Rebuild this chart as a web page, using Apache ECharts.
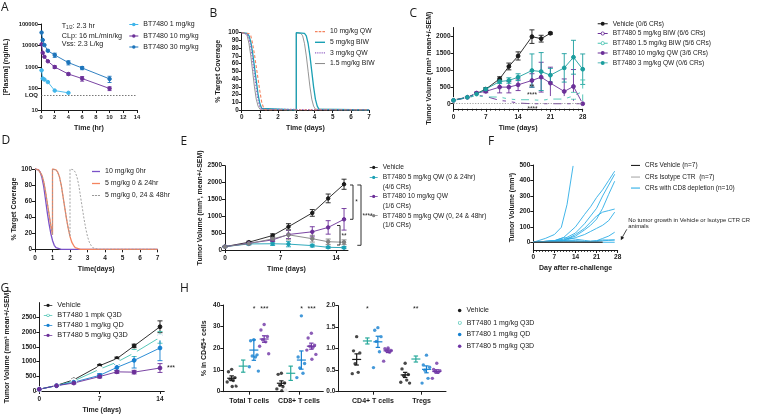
<!DOCTYPE html>
<html><head><meta charset="utf-8">
<script src="https://cdn.jsdelivr.net/npm/echarts@6/dist/echarts.min.js"></script>
<style>html,body{margin:0;padding:0;background:#fff}#c{width:760px;height:416px}</style>
</head><body><div id="c"></div><script>
// ================= DATA =================
// Panel A (PK)
const aTime = [0.083, 0.25, 0.5, 1, 2, 4, 6, 10];
const aTime1 = [0.083, 0.25, 0.5, 1, 2, 4];
const a1mg = [700, 290, 260, 200, 80, 63];
const a10mg = [11300, 4600, 3000, 1850, 1000, 470, 290, 100];
const a30mg = [40000, 18000, 10500, 5700, 3600, 1600, 900, 280];
const a10sem = [0, 0, 0, 0, 150, 60, 70, 20];
const a30sem = [0, 0, 0, 500, 800, 350, 150, 90];
// Panel B (target coverage)
const bQW10T = [0, 0.4, 0.5, 0.6, 0.7, 0.8, 0.9, 1.0, 1.1, 1.2, 1.3, 7];
const bQW10V = [100, 99, 96, 86, 72, 56, 40, 24, 10, 3, 0, 0];
const bBIW5T = [0, 0.3, 0.4, 0.5, 0.6, 0.7, 0.8, 0.9, 1.0, 1.1, 1.2, 3.0, 3.0, 3.45, 3.55, 3.65, 3.75, 3.85, 3.95, 4.05, 4.15, 4.25, 7];
const bBIW5V = [100, 99, 96, 88, 74, 56, 38, 20, 8, 2, 0, 0, 100, 99, 96, 86, 70, 50, 30, 14, 5, 1, 0];
const bQW3T = [0, 0.3, 0.4, 0.5, 0.6, 0.7, 0.8, 0.9, 1.0, 1.1, 7];
const bQW3V = [100, 98, 93, 82, 64, 46, 28, 13, 4, 1, 0];
const bBIW15T = [0, 0.2, 0.3, 0.4, 0.5, 0.6, 0.7, 0.8, 0.9, 1.0, 3.0, 3.0, 3.25, 3.35, 3.45, 3.55, 3.65, 3.75, 3.85, 3.95, 4.05, 7];
const bBIW15V = [100, 99, 96, 86, 70, 50, 30, 14, 5, 1, 0, 100, 99, 96, 86, 70, 50, 30, 14, 5, 1, 0];
// Panel C (tumor volume)
const cDays = [0, 3, 5, 7, 10, 12, 14, 17, 19, 21, 24, 26, 28];
const cVeh = [110, 190, 300, 430, 735, 1100, 1410, 1980, 1920, 2080];
const cVehSem = [10, 20, 30, 40, 60, 100, 120, 200, 100, 30];
const cBIW5 = [100, 180, 250, 215, 98, 68, 20, 0, 0, 0, 0, 0, 0];
const cBIW5Sem = [10, 20, 20, 20, 15, 10, 10, 5, 0, 0, 0, 0, 0];
const cBIW15 = [100, 175, 240, 200, 197, 137, 118, 118, 98, 137, 137, 235, 362];
const cBIW15Sem = [10, 20, 20, 20, 20, 15, 15, 15, 15, 15, 20, 100, 340];
const cQW10 = [100, 190, 315, 365, 490, 490, 558, 686, 784, 608, 362, 509, 0];
const cQW10Sem = [10, 20, 30, 40, 170, 170, 170, 200, 440, 470, 370, 500, 0];
const cQW3 = [100, 190, 285, 430, 655, 685, 784, 980, 950, 843, 1058, 1372, 1019];
const cQW3Sem = [10, 20, 30, 40, 60, 80, 100, 490, 560, 200, 420, 500, 450];
// Panel D (target coverage)
const dT10 = [0, 0.2, 0.3, 0.4, 0.5, 0.6, 0.7, 0.8, 0.9, 1.0, 1.1, 1.2, 1.3, 1.5, 7];
const dV10 = [100, 99, 96, 89, 78, 62, 46, 32, 20, 11, 5, 2, 1, 0, 0];
const dT5a = [0, 0.2, 0.3, 0.4, 0.5, 0.6, 0.7, 0.8, 0.9, 1.0, 1.0, 1.2, 1.3, 1.4, 1.5, 1.6, 1.7, 1.8, 1.9, 2.0, 2.1, 2.2, 2.3, 2.4, 2.6, 7];
const dV5a = [100, 99, 97, 92, 84, 72, 58, 44, 30, 18, 100, 99, 96, 90, 80, 66, 52, 38, 26, 16, 9, 5, 2, 1, 0, 0];
const dT5b = [0, 0.2, 0.3, 0.4, 0.5, 0.6, 0.7, 0.8, 0.9, 1.0, 1.0, 1.2, 1.3, 1.4, 1.5, 1.6, 1.7, 1.8, 1.9, 2.0, 2.0, 2.2, 2.3, 2.4, 2.5, 2.6, 2.7, 2.8, 2.9, 3.0, 3.1, 3.2, 3.3, 3.4, 3.6, 7];
const dV5b = [100, 99, 97, 92, 84, 72, 58, 44, 30, 18, 100, 99, 96, 90, 80, 66, 52, 38, 26, 16, 100, 99, 96, 90, 80, 66, 52, 38, 26, 16, 9, 5, 2, 1, 0, 0];
// Panel E
const eDays = [0, 3, 6, 8, 11, 13, 15];
const eVeh = [100, 230, 430, 690, 1100, 1530, 1950];
const eVehSem = [10, 30, 50, 90, 100, 130, 150];
const eQW024 = [100, 180, 185, 175, 130, 80, 70];
const eQW024Sem = [10, 30, 50, 80, 40, 30, 30];
const eQW10 = [100, 200, 300, 460, 540, 670, 910];
const eQW10Sem = [10, 30, 50, 120, 150, 200, 320];
const eQW048 = [100, 190, 330, 450, 335, 245, 230];
const eQW048Sem = [10, 30, 60, 150, 100, 80, 70];
// Panel F (re-challenge, individual animals)
const fVehicle = [[0, 0], [23, 0]];
const fIsotype = [[0, 0], [23, 0]];
const fM1 = [[0, 0], [4, 25], [7, 50], [9.3, 97], [11.2, 245], [13.2, 494]];
const fM2 = [[0, 0], [7, 10], [10, 30], [14, 100], [17, 180], [19, 230], [21, 290], [23, 340], [25, 400], [27, 460]];
const fM3 = [[0, 0], [7, 10], [10, 20], [14, 60], [17, 120], [19, 170], [21, 220], [23, 300], [25, 370], [27, 440]];
const fM4 = [[0, 0], [10, 15], [14, 40], [17, 80], [19, 110], [21, 150], [23, 220], [25, 310], [27, 395]];
const fM5 = [[0, 0], [10, 10], [14, 50], [17, 90], [19, 130], [21, 170], [23, 195], [25, 205], [27, 215]];
const fM6 = [[0, 0], [10, 10], [14, 30], [17, 50], [19, 70], [21, 90], [23, 110], [25, 140], [27, 195]];
const fM7 = [[0, 0], [10, 10], [14, 8], [17, 5], [19, 5], [21, 10], [23, 25], [25, 40], [27, 65]];
const fM8 = [[0, 0], [7, 10], [10, 30], [12, 25], [14, 20], [17, 12], [19, 8], [21, 10], [23, 15], [25, 15], [27, 15]];
const fM9 = [[0, 0], [7, 5], [10, 10], [14, 10], [17, 5], [19, 0], [21, 5], [23, 10], [25, 12], [27, 15]];
const fM10 = [[0, 0], [10, 5], [14, 5], [19, 0], [27, 0]];
// Panel G
const gDays = [0, 2, 4, 7, 9, 11, 14];
const gVeh = [60, 190, 380, 860, 1100, 1530, 2180];
const gVehSem = [5, 15, 30, 40, 50, 60, 200];
const gQ3D1 = [60, 180, 340, 740, 980, 1290, 1820];
const gQ3D1Sem = [5, 15, 30, 60, 80, 120, 200];
const gQD1 = [60, 180, 300, 530, 800, 1040, 1460];
const gQD1Sem = [5, 15, 30, 60, 100, 260, 430];
const gQ3D5 = [60, 180, 270, 490, 650, 640, 780];
const gQ3D5Sem = [5, 15, 30, 50, 50, 60, 150];
// Panel H (flow cytometry)
const hLeftLabels = ['Total T cells', 'CD8+ T cells'];
const hRightLabels = ['CD4+ T cells', 'Tregs'];
const hTotVeh = [10.3, 9.2, 6.5, 5.8, 5.2, 4.5, 2.6, 2.4];
const hTotQ3d1 = [21, 20, 11, 9.5, 8.5, 4, 4];
const hTotQd1 = [24, 23.5, 17, 16.5, 16, 11.5, 9.5];
const hTotQ3d5 = [31, 28.5, 25.5, 24, 23, 21, 17.5];
const hCd8Veh = [8.5, 8, 4, 3, 2.3, 1.3, 0.8, 0.5];
const hCd8Q3d1 = [18.5, 16, 10.8, 7.4, 2.3, 0.8];
const hCd8Qd1 = [35, 16, 13, 11, 8.5, 6.5];
const hCd8Q3d5 = [27, 24.8, 21.5, 21, 20.5, 19.2, 17.2, 15];
const hCd4Veh = [1.28, 0.95, 0.9, 0.65, 0.45, 0.42];
const hCd4Q3d1 = [1.51, 1.28, 1.2, 1.15, 1.1, 1.03, 0.98];
const hCd4Qd1 = [1.49, 1.43, 1.28, 1.17, 0.93, 0.56];
const hCd4Q3d5 = [1.02, 1.0, 0.96, 0.95, 0.92, 0.71];
const hTregVeh = [0.66, 0.53, 0.4, 0.37, 0.27, 0.22, 0.2];
const hTregQ3d1 = [1.09, 0.97, 0.8, 0.71, 0.67, 0.64, 0.62];
const hTregQd1 = [0.85, 0.62, 0.57, 0.5, 0.31, 0.2];
const hTregQ3d5 = [0.66, 0.52, 0.49, 0.47, 0.45, 0.31];
const hTotMean = [6.2, 11.8, 19.2, 24.3], hTotSem = [1.1, 2.8, 4.7, 1.5];
const hCd8Mean = [3.9, 8.5, 14.6, 21], hCd8Sem = [1.1, 3.3, 4.2, 1.4];
const hCd4Mean = [0.75, 1.18, 1.16, 0.95], hCd4Sem = [0.13, 0.07, 0.13, 0.04];
const hTregMean = [0.39, 0.76, 0.52, 0.47], hTregSem = [0.06, 0.07, 0.08, 0.04];

// ================= STYLE / LAYOUT =================
const FF = '"Liberation Sans", Arial, sans-serif';
const INK = '#1a1a1a';
const C = {lblue:'#3fb5ea', purple:'#6b2f98', dblue:'#1c74bb', orange:'#f4845f', teal:'#1aa0b4', lpurple:'#9566c6',
  gray:'#808080', lteal:'#45c2b1', dteal:'#1b9e9e', dpurple:'#7a52c8', fblue:'#2eaee6', hblue:'#1580d0', hteal:'#2aaa9c', hpurple:'#6f35a5'};
const hPosL = [[0.78, 1.85, 2.84, 3.8], [5.4, 6.27, 7.26, 8.19]];
const hPosR = [[1.75, 2.77, 3.77, 4.74], [6.37, 7.39, 8.4, 9.38]];
const jit = [0, -0.3, 0.3, -0.15, 0.15, -0.42, 0.42, 0.05];
const IC = {
  solid: 'path://M0,0H10V1H0Z',
  dash: 'path://M0,0H2.6V1H0Z M3.7,0H6.3V1H3.7Z M7.4,0H10V1H7.4Z',
  dot: 'path://M0,0H1V1H0Z M1.8,0H2.8V1H1.8Z M3.6,0H4.6V1H3.6Z M5.4,0H6.4V1H5.4Z M7.2,0H8.2V1H7.2Z M9,0H10V1H9Z',
  dotLine: 'path://M0,1.55H3.1V2.45H0Z M6.9,1.55H10V2.45H6.9Z M7,2A2,2 0 1,1 3,2A2,2 0 1,1 7,2Z',
  ringLine: 'path://M0,1.55H3.1V2.45H0Z M6.9,1.55H10V2.45H6.9Z M7,2A2,2 0 1,1 3,2A2,2 0 1,1 7,2Z M6.2,2A1.2,1.2 0 1,0 3.8,2A1.2,1.2 0 1,0 6.2,2Z',
  ring: 'path://M4,2A2,2 0 1,1 0,2A2,2 0 1,1 4,2Z M3.25,2A1.25,1.25 0 1,0 0.75,2A1.25,1.25 0 1,0 3.25,2Z'
};

function isObj(o){return o && typeof o === 'object' && !Array.isArray(o) && typeof o !== 'function';}
function merge(a, b){ const r = Object.assign({}, a); for (const k in b){ r[k] = (isObj(a[k]) && isObj(b[k])) ? merge(a[k], b[k]) : b[k]; } return r; }
const zip = (xs, ys) => ys.map((y, i) => [xs[i], y]);
const zipErr = (xs, m, s) => m.map((v, i) => [xs[i], v - s[i], v + s[i]]).filter((d, i) => s[i] > 0);

function ax(gi, o){
  return merge({
    gridIndex: gi, type: 'value',
    axisLine: {show: true, onZero: false, lineStyle: {color: INK, width: 1}},
    axisTick: {show: true, inside: false, length: 3, lineStyle: {color: INK, width: 1}},
    axisLabel: {fontSize: 6.5, fontWeight: 'bold', color: INK, fontFamily: FF, margin: 4, formatter: v => String(v)},
    splitLine: {show: false},
    nameLocation: 'middle',
    nameTextStyle: {fontSize: 7, fontWeight: 'bold', color: INK, fontFamily: FF}
  }, o || {});
}
function errSeries(gi, data, color, cap, w){
  cap = cap || 2.5;
  return {type: 'custom', xAxisIndex: gi, yAxisIndex: gi, data, z: 2, silent: true,
    renderItem: (p, api) => {
      const x = api.value(0), lo = api.value(1), hi = api.value(2);
      const a = api.coord([x, Math.max(lo, 1e-9)]), b = api.coord([x, hi]);
      const st = {stroke: color, lineWidth: w || 0.9};
      return {type: 'group', children: [
        {type: 'line', shape: {x1: a[0], y1: a[1], x2: b[0], y2: b[1]}, style: st},
        {type: 'line', shape: {x1: a[0] - cap, y1: a[1], x2: a[0] + cap, y2: a[1]}, style: st},
        {type: 'line', shape: {x1: b[0] - cap, y1: b[1], x2: b[0] + cap, y2: b[1]}, style: st}]};
    }};
}
function meanSeries(gi, data, color){
  return {type: 'custom', xAxisIndex: gi, yAxisIndex: gi, data, z: 5, silent: true,
    renderItem: (p, api) => {
      const x = api.value(0), m = api.value(1), s = api.value(2);
      const c = api.coord([x, m]), lo = api.coord([x, m - s]), hi = api.coord([x, m + s]);
      const st = {stroke: color, lineWidth: 1.2};
      return {type: 'group', children: [
        {type: 'line', shape: {x1: c[0] - 4.5, y1: c[1], x2: c[0] + 4.5, y2: c[1]}, style: st},
        {type: 'line', shape: {x1: lo[0], y1: lo[1], x2: hi[0], y2: hi[1]}, style: st},
        {type: 'line', shape: {x1: lo[0] - 2.2, y1: lo[1], x2: lo[0] + 2.2, y2: lo[1]}, style: st},
        {type: 'line', shape: {x1: hi[0] - 2.2, y1: hi[1], x2: hi[0] + 2.2, y2: hi[1]}, style: st}]};
    }};
}
function lineS(name, gi, data, color, o){
  return merge({type: 'line', name, xAxisIndex: gi, yAxisIndex: gi, data, symbol: 'circle', symbolSize: 3.5,
    lineStyle: {color, width: 0.9}, itemStyle: {color, borderColor: color, borderWidth: 1}, z: 3}, o || {});
}
function curveS(name, gi, data, color, width, type){
  return {type: 'line', name, xAxisIndex: gi, yAxisIndex: gi, data, showSymbol: false, symbol: 'none',
    lineStyle: {color, width, type: type || 'solid'}, itemStyle: {color}, z: 3};
}
function hScatter(name, gi, groups, pos, sIdx, color, empty){
  const d = [];
  groups.forEach((vals, g) => vals.forEach((v, i) => d.push([pos[g][sIdx] + jit[i % jit.length], v])));
  return {type: 'scatter', name, xAxisIndex: gi, yAxisIndex: gi, data: d, symbol: empty ? 'emptyCircle' : 'circle',
    symbolSize: empty ? 3.6 : 3.4, itemStyle: {color: empty ? '#fff' : color, borderColor: color, borderWidth: empty ? 0.8 : 0}, z: 3};
}
const legendNames = {};
function leg(name, text, left, cy, icon, color, w, h, fs){
  fs = fs || 7;
  legendNames[name] = text;
  return {data: [{name, icon, itemStyle: {color, borderWidth: 0, borderColor: 'rgba(0,0,0,0)', opacity: 1}}],
    left, top: cy - fs / 2 - 0.5, padding: 0, itemGap: 0, selectedMode: false, symbolKeepAspect: false,
    itemWidth: w, itemHeight: h,
    formatter: n => legendNames[n], textStyle: {fontSize: fs, color: INK, fontFamily: FF}};
}
function txt(t, x, y, fs, o){
  o = o || {};
  return {type: 'text', x, y, silent: true, z: 100, style: {text: t, fontSize: fs, fontFamily: o.ff || FF, fontWeight: o.fw || 'normal',
    fill: o.fill || INK, align: o.align || 'left', textAlign: o.align || 'left', verticalAlign: 'middle', textVerticalAlign: 'middle', rich: o.rich}};
}
function poly(points, o){
  return {type: 'polyline', silent: true, z: 100, shape: {points}, style: {stroke: (o && o.stroke) || INK, fill: null, lineWidth: (o && o.lw) || 0.9}};
}

// ================= AXES =================
const grids = [
  {left: 41, top: 24, width: 96, height: 86},          // 0 A
  {left: 241.7, top: 32.7, width: 127.4, height: 77.3}, // 1 B
  {left: 453.5, top: 27.5, width: 129.2, height: 81.3}, // 2 C
  {left: 35, top: 169, width: 122.5, height: 80.3},     // 3 D
  {left: 225, top: 165.7, width: 123, height: 84.3},    // 4 E
  {left: 533.3, top: 165, width: 84.4, height: 85},     // 5 F
  {left: 39.3, top: 302.6, width: 125, height: 88.4},   // 6 G
  {left: 223.3, top: 305, width: 100, height: 86.7},    // 7 H left
  {left: 338.3, top: 305.7, width: 107.7, height: 86}   // 8 H right
];
const xAxes = [
  ax(0, {min: 0, max: 14, interval: 2, name: 'Time (hr)', nameGap: 15, axisLabel: {fontSize: 5.8, margin: 4}}),
  ax(1, {min: 0, max: 7, interval: 1, name: 'Time (days)', nameGap: 15, axisLabel: {fontSize: 6.3, margin: 4}}),
  ax(2, {min: 0, max: 28, interval: 7, name: 'Time (days)', nameGap: 16, minorTick: {show: true, splitNumber: 7, length: 1.8, lineStyle: {color: INK}}, axisLabel: {margin: 5}}),
  ax(3, {min: 0, max: 7, interval: 1, name: 'Time(days)', nameGap: 16, axisLabel: {margin: 5}}),
  ax(4, {min: 0, max: 15.5, name: 'Time (days)', nameGap: 16, axisLabel: {customValues: [0, 7, 14], margin: 5}, axisTick: {customValues: [0, 7, 14]}}),
  ax(5, {min: 0, max: 28, interval: 7, name: 'Day after re-challenge', nameGap: 15, minorTick: {show: true, splitNumber: 7, length: 1.8, lineStyle: {color: INK}}, axisLabel: {margin: 4}}),
  ax(6, {min: 0, max: 14.5, name: 'Time (days)', nameGap: 16, axisLabel: {customValues: [0, 7, 14], margin: 5}, axisTick: {customValues: [0, 7, 14]}}),
  ax(7, {min: 0, max: 9.3, axisLabel: {customValues: [2.41, 7.04], formatter: v => v < 5 ? hLeftLabels[0] : hLeftLabels[1], fontSize: 7, margin: 6}, axisTick: {customValues: [2.41, 7.04]}}),
  ax(8, {min: 0, max: 10.26, axisLabel: {customValues: [3.3, 7.94], formatter: v => v < 5.5 ? hRightLabels[0] : hRightLabels[1], fontSize: 7, margin: 6}, axisTick: {customValues: [3.3, 7.94]}})
];
const yAxes = [
  ax(0, {type: 'log', logBase: 10, min: 10, max: 100000, name: '[Plasma] (ng/mL)', nameGap: 31, axisLabel: {fontSize: 5.8, margin: 3}}),
  ax(1, {min: 0, max: 100, interval: 10, name: '% Target Coverage', nameGap: 20, axisLabel: {fontSize: 6.3, margin: 3}}),
  ax(2, {min: -150, max: 2250, name: 'Tumor Volume (mm³ mean+/-SEM)', nameGap: 21, axisLabel: {customValues: [0, 500, 1000, 1500, 2000], margin: 3}, axisTick: {customValues: [0, 500, 1000, 1500, 2000]}}),
  ax(3, {min: 0, max: 100, interval: 20, name: '% Target Coverage', nameGap: 17, axisLabel: {margin: 3}}),
  ax(4, {min: 0, max: 2500, interval: 500, name: 'Tumor Volume (mm³, mean+/-SEM)', nameGap: 20, axisLabel: {margin: 3}}),
  ax(5, {min: -50, max: 500, name: 'Tumor Volume (mm³)', nameGap: 17, axisLabel: {customValues: [0, 100, 200, 300, 400, 500], margin: 3}, axisTick: {customValues: [0, 100, 200, 300, 400, 500]}}),
  ax(6, {min: 0, max: 3000, name: 'Tumor Volume (mm³ mean+/-SEM)', nameGap: 29, axisLabel: {customValues: [0, 500, 1000, 1500, 2000, 2500], margin: 3}, axisTick: {customValues: [0, 500, 1000, 1500, 2000, 2500]}}),
  ax(7, {min: 0, max: 40, interval: 10, name: '% in CD45+ cells', nameGap: 16, axisLabel: {margin: 3}}),
  ax(8, {min: 0, max: 2, interval: 0.5, axisLabel: {margin: 3, formatter: v => v.toFixed(1)}})
];

// ================= SERIES =================
const series = [];
// A
series.push(errSeries(0, zipErr(aTime, a10mg, a10sem), C.purple, 2));
series.push(errSeries(0, zipErr(aTime, a30mg, a30sem), C.dblue, 2));
series.push(lineS('A1', 0, zip(aTime1, a1mg), C.lblue, {markLine: {silent: true, symbol: ['none', 'none'],
  label: {show: true, position: 'start', formatter: 'LOQ', fontSize: 6, fontWeight: 'bold', color: INK, fontFamily: FF, distance: 3},
  lineStyle: {type: [1.5, 1.5], color: '#555', width: 0.8}, data: [{yAxis: 50}]}}));
series.push(lineS('A10', 0, zip(aTime, a10mg), C.purple));
series.push(lineS('A30', 0, zip(aTime, a30mg), C.dblue));
// B
series.push(curveS('B1', 1, zip(bBIW15T, bBIW15V), '#7a7a7a', 0.8));
series.push(curveS('B2', 1, zip(bBIW5T, bBIW5V), C.teal, 1.3));
series.push(curveS('B3', 1, zip(bQW3T, bQW3V), C.lpurple, 1.2, [1.5, 1.5]));
series.push(curveS('B4', 1, zip(bQW10T, bQW10V), C.orange, 1.1, [3, 2]));
// C
series.push(errSeries(2, zipErr(cDays, cVeh, cVehSem), INK));
series.push(errSeries(2, zipErr(cDays, cQW10, cQW10Sem), C.purple));
series.push(errSeries(2, zipErr(cDays, cQW3, cQW3Sem), C.dteal));
series.push(errSeries(2, zipErr(cDays, cBIW15, cBIW15Sem), C.lteal));
series.push(errSeries(2, zipErr(cDays, cBIW5, cBIW5Sem), C.purple));
series.push(lineS('Cveh', 2, zip(cDays, cVeh), INK, {symbolSize: 3.8, markLine: {silent: true, symbol: ['none', 'none'], label: {show: false},
  lineStyle: {type: [1.2, 1.5], color: '#888', width: 0.8}, data: [{yAxis: 0}]}}));
series.push(lineS('Cbiw5', 2, zip(cDays, cBIW5), C.purple, {symbol: 'emptyCircle', symbolSize: 4, itemStyle: {color: '#fff'}}));
series.push(lineS('Cbiw15', 2, zip(cDays, cBIW15), C.lteal, {symbol: 'emptyCircle', symbolSize: 4, itemStyle: {color: '#fff'}}));
series.push(lineS('Cqw10', 2, zip(cDays, cQW10), C.purple, {symbolSize: 3.8}));
series.push(lineS('Cqw3', 2, zip(cDays, cQW3), C.dteal, {symbolSize: 3.8}));
// D
series.push(curveS('D1', 3, zip(dT10, dV10), C.dpurple, 1.3));
series.push(curveS('D2', 3, zip(dT5a, dV5a), C.orange, 1.3));
series.push(curveS('D3', 3, zip(dT5b, dV5b), '#9a9a9a', 0.9, [2, 1.6]));
// E
series.push(errSeries(4, zipErr(eDays, eVeh, eVehSem), INK));
series.push(errSeries(4, zipErr(eDays, eQW024, eQW024Sem), C.teal));
series.push(errSeries(4, zipErr(eDays, eQW10, eQW10Sem), C.purple));
series.push(errSeries(4, zipErr(eDays, eQW048, eQW048Sem), C.gray));
series.push(lineS('Eveh', 4, zip(eDays, eVeh), INK));
series.push(lineS('Eqw024', 4, zip(eDays, eQW024), C.teal));
series.push(lineS('Eqw10', 4, zip(eDays, eQW10), C.purple));
series.push(lineS('Eqw048', 4, zip(eDays, eQW048), C.gray));
// F
[fM1, fM2, fM3, fM4, fM5, fM6, fM7, fM8, fM9, fM10].forEach(m => series.push(curveS('Fcd8', 5, m, C.fblue, 0.9)));
series.push(curveS('Fiso', 5, fIsotype, '#aaaaaa', 1.1));
series.push(merge(curveS('Fveh', 5, fVehicle, '#222', 1.1), {markLine: {silent: true, symbol: ['none', 'none'], label: {show: false},
  lineStyle: {type: [1.2, 1.6], color: '#666', width: 0.9}, data: [[{coord: [24.5, 0]}, {coord: [28.5, 0]}]]}}));
// G
series.push(errSeries(6, zipErr(gDays, gVeh, gVehSem), INK));
series.push(errSeries(6, zipErr(gDays, gQ3D1, gQ3D1Sem), C.lteal));
series.push(errSeries(6, zipErr(gDays, gQD1, gQD1Sem), C.hblue));
series.push(errSeries(6, zipErr(gDays, gQ3D5, gQ3D5Sem), C.purple));
series.push(lineS('Gveh', 6, zip(gDays, gVeh), INK, {symbolSize: 3.8}));
series.push(lineS('Gq3d1', 6, zip(gDays, gQ3D1), C.lteal, {symbol: 'emptyCircle', symbolSize: 4.2, itemStyle: {color: '#fff'}}));
series.push(lineS('Gqd1', 6, zip(gDays, gQD1), C.hblue, {symbolSize: 3.8}));
series.push(lineS('Gq3d5', 6, zip(gDays, gQ3D5), C.purple, {symbolSize: 3.8}));
// H
const hCols = [INK, C.lteal, C.hblue, C.hpurple];
const hMeanCols = [INK, C.hteal, C.hblue, C.hpurple];
const hNames = ['Hveh', 'Hq3d1', 'Hqd1', 'Hq3d5'];
const hL = [[hTotVeh, hCd8Veh], [hTotQ3d1, hCd8Q3d1], [hTotQd1, hCd8Qd1], [hTotQ3d5, hCd8Q3d5]];
const hR = [[hCd4Veh, hTregVeh], [hCd4Q3d1, hTregQ3d1], [hCd4Qd1, hTregQd1], [hCd4Q3d5, hTregQ3d5]];
for (let s = 0; s < 4; s++) {
  series.push(hScatter(hNames[s], 7, hL[s], hPosL, s, hCols[s], s === 1));
  series.push(hScatter(hNames[s], 8, hR[s], hPosR, s, hCols[s], s === 1));
  series.push(meanSeries(7, [[hPosL[0][s], hTotMean[s], hTotSem[s]], [hPosL[1][s], hCd8Mean[s], hCd8Sem[s]]], hMeanCols[s]));
  series.push(meanSeries(8, [[hPosR[0][s], hCd4Mean[s], hCd4Sem[s]], [hPosR[1][s], hTregMean[s], hTregSem[s]]], hMeanCols[s]));
}

// ================= LEGENDS =================
const legends = [
  leg('A1', 'BT7480 1 mg/kg', 129.3, 25, IC.dotLine, C.lblue, 9, 3.6),
  leg('A10', 'BT7480 10 mg/kg', 129.3, 36.5, IC.dotLine, C.purple, 9, 3.6),
  leg('A30', 'BT7480 30 mg/kg', 129.3, 47.5, IC.dotLine, C.dblue, 9, 3.6),
  leg('B4', '10 mg/kg QW', 315, 32, IC.dash, C.orange, 10, 1.1, 6.8),
  leg('B2', '5 mg/kg BIW', 315, 42.7, IC.solid, C.teal, 10, 1.4, 6.8),
  leg('B3', '3 mg/kg QW', 315, 53.3, IC.dot, C.lpurple, 10, 1.2, 6.8),
  leg('B1', '1.5 mg/kg BIW', 315, 64, IC.solid, '#7a7a7a', 10, 0.9, 6.8),
  leg('Cveh', 'Vehicle (0/6 CRs)', 597.7, 24, IC.dotLine, INK, 10, 4, 6.6),
  leg('Cbiw5', 'BT7480 5 mg/kg BIW (6/6 CRs)', 597.7, 33.8, IC.ringLine, C.purple, 10, 4, 6.6),
  leg('Cbiw15', 'BT7480 1.5 mg/kg BIW (5/6 CRs)', 597.7, 43.6, IC.ringLine, C.lteal, 10, 4, 6.6),
  leg('Cqw10', 'BT7480 10 mg/kg QW (3/6 CRs)', 597.7, 53.3, IC.dotLine, C.purple, 10, 4, 6.6),
  leg('Cqw3', 'BT7480 3 mg/kg QW (0/6 CRs)', 597.7, 63.2, IC.dotLine, C.dteal, 10, 4, 6.6),
  leg('D1', '10 mg/kg 0hr', 92, 172, IC.solid, C.dpurple, 8, 1.3),
  leg('D2', '5 mg/kg 0 & 24hr', 92, 184, IC.solid, C.orange, 8, 1.3),
  leg('D3', '5 mg/kg 0, 24 & 48hr', 92, 196, IC.dash, '#9a9a9a', 8, 0.9),
  leg('Eveh', 'Vehicle', 369.7, 167.7, IC.dotLine, INK, 8, 3.2, 6.6),
  leg('Eqw024', 'BT7480 5 mg/kg QW (0 & 24hr)', 369.7, 177.7, IC.dotLine, C.teal, 8, 3.2, 6.6),
  leg('Eqw10', 'BT7480 10 mg/kg QW', 369.7, 196.7, IC.dotLine, C.purple, 8, 3.2, 6.6),
  leg('Eqw048', 'BT7480 5 mg/kg QW (0, 24 & 48hr)', 369.7, 216, IC.dotLine, C.gray, 8, 3.2, 6.6),
  leg('Fveh', 'CRs Vehicle (n=7)', 631, 165.7, IC.solid, '#222', 9, 1.1, 6.5),
  leg('Fiso', 'CRs Isotype CTR  (n=7)', 631, 177.3, IC.solid, '#aaaaaa', 9, 1.1, 6.5),
  leg('Fcd8', 'CRs with CD8 depletion (n=10)', 631, 188.3, IC.solid, C.fblue, 9, 1.1, 6.5),
  leg('Gveh', 'Vehicle', 43.8, 306, IC.dotLine, INK, 8.5, 3.4, 7.3),
  leg('Gq3d1', 'BT7480 1 mpk Q3D', 43.8, 316, IC.ringLine, C.lteal, 8.5, 3.4, 7.3),
  leg('Gqd1', 'BT7480 1 mg/kg QD', 43.8, 326, IC.dotLine, C.hblue, 8.5, 3.4, 7.3),
  leg('Gq3d5', 'BT7480 5 mg/kg Q3D', 43.8, 336, IC.dotLine, C.purple, 8.5, 3.4, 7.3),
  leg('Hveh', 'Vehicle', 457.9, 311, 'circle', INK, 3.5, 3.5),
  leg('Hq3d1', 'BT7480 1 mg/kg Q3D', 457.9, 323.3, IC.ring, C.lteal, 3.8, 3.8),
  leg('Hqd1', 'BT7480 1 mg/kg QD', 457.9, 335, 'circle', C.hblue, 3.5, 3.5),
  leg('Hq3d5', 'BT7480 5 mg/kg Q3D', 457.9, 346.7, 'circle', C.hpurple, 3.5, 3.5)
];

// ================= ANNOTATIONS =================
const LF = '"Open Sans", "Liberation Sans", sans-serif';
const graphics = [
  txt('A', 1, 7.5, 12, {ff: LF}), txt('B', 209.5, 14, 12, {ff: LF}), txt('C', 409.5, 14, 12, {ff: LF}),
  txt('D', 1.5, 141, 12, {ff: LF}), txt('E', 180.5, 142, 12, {ff: LF}), txt('F', 488, 142, 12, {ff: LF}),
  txt('G', 0.5, 289, 12, {ff: LF}), txt('H', 180, 289, 12, {ff: LF}),
  txt('T{s|1/2}: 2.3 hr', 61.7, 26, 7.2, {rich: {s: {fontSize: 4.6, fontFamily: FF, fill: INK, padding: [4, 0, 0, 0]}}}),
  txt('CLp: 16 mL/min/kg', 61.7, 35.7, 7.2), txt('Vss: 2.3 L/kg', 61.7, 44, 7.2),
  txt('**', 531.7, 87.5, 6.5, {align: 'center'}), txt('****', 532, 95.5, 6.5, {align: 'center'}), txt('****', 532.5, 109.5, 6.5, {align: 'center'}),
  txt('(4/6 CRs)', 382.7, 186.7, 6.6), txt('(1/6 CRs)', 382.7, 205.7, 6.6), txt('(1/6 CRs)', 382.7, 225, 6.6),
  poly([[350, 185], [353, 185], [353, 219.3], [350, 219.3]]), txt('*', 355.3, 202.5, 6.5),
  poly([[357.3, 185], [361, 185], [361, 245.3], [357.3, 245.3]]), txt('****', 362.5, 216, 6.5),
  poly([[337, 225.5], [340, 225.5], [340, 245], [337, 245]]), txt('**', 341.5, 236.5, 6.5),
  txt('No tumor growth in Vehicle or Isotype CTR CR', 628.3, 220, 5.9), txt('animals', 628.3, 226.3, 5.9),
  poly([[626.8, 229.3], [622, 237.8]], {lw: 0.8}),
  {type: 'polygon', silent: true, z: 100, shape: {points: [[620.8, 240.2], [624.2, 237.7], [620.8, 235.9]]}, style: {fill: INK}},
  txt('***', 171, 368.3, 7, {align: 'center'}),
  txt('*', 254, 309, 7, {align: 'center'}), txt('***', 264.3, 309, 7, {align: 'center'}),
  txt('*', 301.7, 309, 7, {align: 'center'}), txt('***', 311.7, 309, 7, {align: 'center'}),
  txt('*', 367.3, 309.5, 7, {align: 'center'}), txt('**', 415.7, 309.5, 7, {align: 'center'})
];

const chart = echarts.init(document.getElementById('c'), null, {renderer: 'canvas'});
chart.setOption({
  animation: false, backgroundColor: '#fff',
  textStyle: {fontFamily: FF},
  grid: grids, xAxis: xAxes, yAxis: yAxes, series, legend: legends, graphic: graphics
});
</script></body></html>
